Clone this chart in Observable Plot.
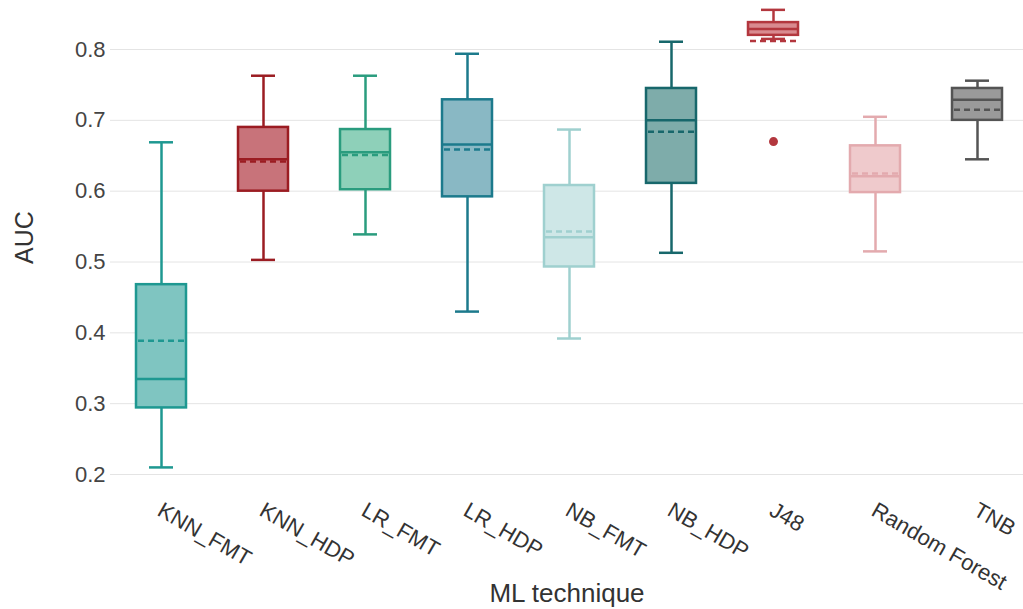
<!DOCTYPE html>
<html>
<head>
<meta charset="utf-8">
<script src="https://cdn.jsdelivr.net/npm/d3@7"></script>
<script src="https://cdn.jsdelivr.net/npm/@observablehq/plot@0.6"></script>
<style>
  html, body { margin: 0; padding: 0; background: #fff; }
  #chart svg { display: block; font-family: "Liberation Sans", Arial, sans-serif; }
</style>
</head>
<body>
<div id="chart"></div>
<script>
// AUC distribution per ML technique
const techniques = ["KNN_FMT", "KNN_HDP", "LR_FMT", "LR_HDP", "NB_FMT", "NB_HDP", "J48", "Random Forest", "TNB"];
const whiskerLow  = [0.210, 0.503, 0.539, 0.430, 0.392, 0.513, 0.815, 0.515, 0.645];
const q1          = [0.294, 0.600, 0.602, 0.592, 0.493, 0.611, 0.820, 0.598, 0.700];
const median      = [0.335, 0.645, 0.655, 0.666, 0.535, 0.700, 0.829, 0.621, 0.729];
const q3          = [0.468, 0.690, 0.687, 0.729, 0.608, 0.745, 0.838, 0.664, 0.745];
const whiskerHigh = [0.669, 0.763, 0.763, 0.794, 0.687, 0.811, 0.856, 0.705, 0.756];
const mean        = [0.389, 0.642, 0.651, 0.659, 0.543, 0.684, 0.812, 0.625, 0.715];
const outliers    = [{technique: "J48", auc: 0.670}];
const yTicks = [0.2, 0.3, 0.4, 0.5, 0.6, 0.7, 0.8];

// palette: outline and fill per technique
const strokeColors = ["#1e9891", "#9b1c22", "#2a9c7e", "#1c7a8c", "#9fd0cf", "#17676b", "#b3373e", "#e3aaae", "#545454"];
const fillColors   = ["#7fc5c1", "#c8737a", "#8ed0b9", "#89b8c4", "#cee7e7", "#7eacaa", "#d98a8f", "#efcacc", "#9a9a9a"];

const rows = techniques.map((t, i) => ({
  technique: t,
  low: whiskerLow[i], q1: q1[i], median: median[i], q3: q3[i], high: whiskerHigh[i], mean: mean[i],
  stroke: strokeColors[i], fill: fillColors[i]
}));
const strokeOf = Object.fromEntries(techniques.map((t, i) => [t, strokeColors[i]]));

const sw = 2.5;
const chart = Plot.plot({
  width: 1023,
  height: 609,
  marginLeft: 110,
  marginRight: 0,
  marginTop: 0,
  marginBottom: 135,
  style: {fontFamily: "Liberation Sans, Arial, sans-serif", background: "#fff"},
  x: {domain: techniques, range: [134, 1003], paddingInner: 0.512, paddingOuter: 0, axis: null},
  y: {domain: [0.2, 0.8692], axis: null},
  color: {type: "identity"},
  marks: [
    Plot.gridY(yTicks, {stroke: "#e4e4e4", strokeOpacity: 1, strokeWidth: 1}),
    Plot.axisY(yTicks, {tickSize: 0, tickPadding: 5, tickFormat: d3.format(".1f"), fontSize: 22, fill: "#444", label: null}),
    // whiskers
    Plot.ruleX(rows, {x: "technique", y1: "low", y2: "q1", stroke: "stroke", strokeWidth: sw}),
    Plot.ruleX(rows, {x: "technique", y1: "q3", y2: "high", stroke: "stroke", strokeWidth: sw}),
    Plot.tickY(rows, {x: "technique", y: "low", stroke: "stroke", strokeWidth: sw, insetLeft: 13, insetRight: 13}),
    Plot.tickY(rows, {x: "technique", y: "high", stroke: "stroke", strokeWidth: sw, insetLeft: 13, insetRight: 13}),
    // interquartile boxes
    Plot.barY(rows, {x: "technique", y1: "q1", y2: "q3", fill: "fill", stroke: "stroke", strokeWidth: sw}),
    // median (solid) and mean (dashed)
    Plot.tickY(rows, {x: "technique", y: "median", stroke: "stroke", strokeWidth: sw}),
    Plot.tickY(rows, {x: "technique", y: "mean", stroke: "stroke", strokeWidth: sw, strokeDasharray: "6,4", insetLeft: 2, insetRight: 2}),
    // outliers
    Plot.dot(outliers, {x: "technique", y: "auc", r: 4.5, fill: d => strokeOf[d.technique], stroke: "none"}),
    // category labels
    Plot.text(techniques, {x: d => d, frameAnchor: "bottom", dy: 34, dx: -2, rotate: 30, textAnchor: "start", lineAnchor: "middle", fontSize: 22, fill: "#333"}),
    // axis titles
    Plot.text(["AUC"], {frameAnchor: "left", dx: -86, rotate: -90, textAnchor: "middle", lineAnchor: "middle", fontSize: 25, fill: "#333"}),
    Plot.text(["ML technique"], {frameAnchor: "bottom", dy: 119, textAnchor: "middle", lineAnchor: "middle", fontSize: 26, fill: "#333"})
  ]
});
document.getElementById("chart").appendChild(chart);
</script>
</body>
</html>
